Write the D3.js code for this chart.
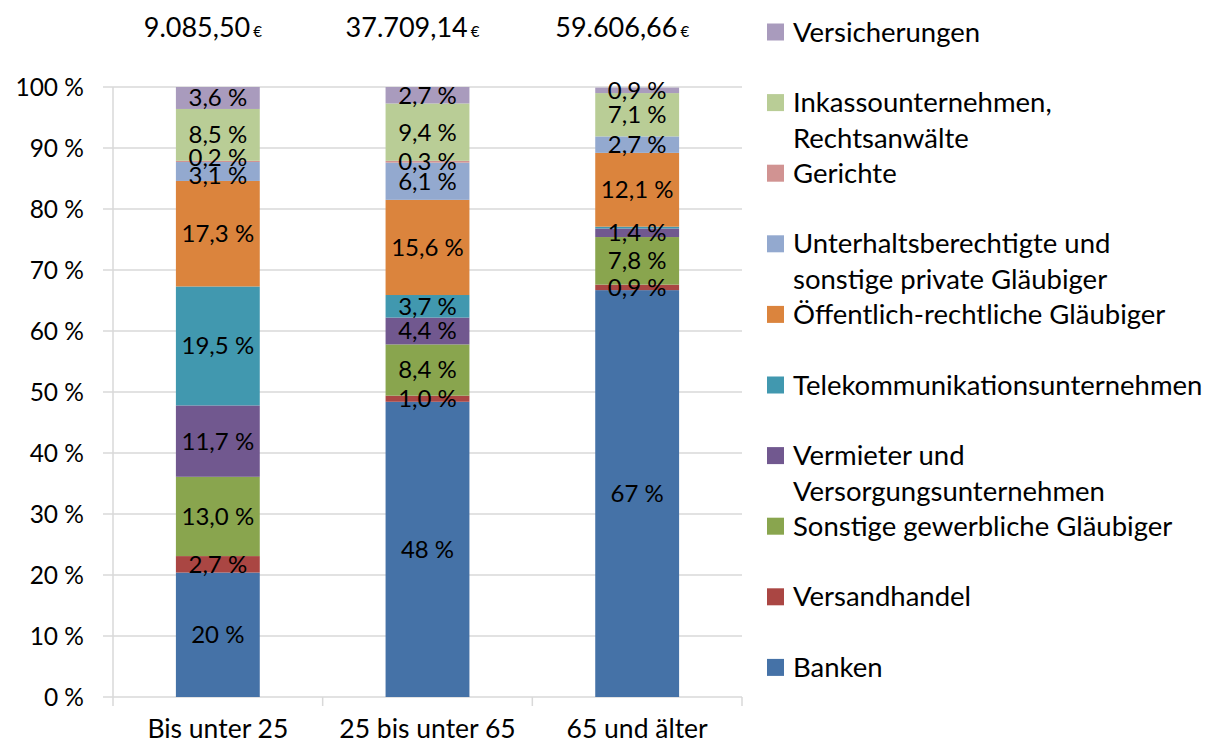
<!DOCTYPE html>
<html>
<head>
<meta charset="utf-8">
<script src="https://cdn.jsdelivr.net/npm/d3@7"></script>
<style>
body { margin:0; background:#fff; }
text { font-family: Lato, "Open Sans", sans-serif; fill:#000; }
.grid line { stroke:#d9d9d9; stroke-width:1.5; }
</style>
</head>
<body>
<div id="chart"></div>
<script>
'use strict';

var width = 1214;
var height = 746;

// categories (age groups) and total debt per group
var categories = ["Bis unter 25", "25 bis unter 65", "65 und älter"];
var totals = ["9.085,50", "37.709,14", "59.606,66"];

// series, bottom of the stack first
var seriesNames = ["Banken", "Versandhandel", "Sonstige gewerbliche Gläubiger",
	"Vermieter und\nVersorgungsunternehmen", "Telekommunikationsunternehmen",
	"Öffentlich-rechtliche Gläubiger", "Unterhaltsberechtigte und\nsonstige private Gläubiger",
	"Gerichte", "Inkassounternehmen,\nRechtsanwälte", "Versicherungen"];
var colors = ["#4572a7", "#aa4643", "#89a54e", "#71588f", "#4198af",
	"#db843d", "#93a9cf", "#d19392", "#b9cd96", "#a99bbd"];

// values in percent per category
var banken = [20.4, 48.4, 66.7];
var versandhandel = [2.7, 1.0, 0.9];
var sonstigeGewerbliche = [13.0, 8.4, 7.8];
var vermieter = [11.7, 4.4, 1.4];
var telekom = [19.5, 3.7, 0.3];
var oeffentlich = [17.3, 15.6, 12.1];
var unterhalt = [3.1, 6.1, 2.7];
var gerichte = [0.2, 0.3, 0.0];
var inkasso = [8.5, 9.4, 7.1];
var versicherungen = [3.6, 2.7, 0.9];

var values = [banken, versandhandel, sonstigeGewerbliche, vermieter, telekom,
	oeffentlich, unterhalt, gerichte, inkasso, versicherungen];

// labels that are not shown in the original (series index, category index)
var hiddenLabels = [[4, 2], [7, 2]];

var yTicks = [0, 10, 20, 30, 40, 50, 60, 70, 80, 90, 100];

var de = d3.formatLocale({decimal: ",", thousands: ".", grouping: [3], currency: ["", " €"]});
var fmt1 = de.format(".1f");
var fmt0 = de.format(".0f");

var svg = d3.select("#chart").append("svg")
	.attr("width", width)
	.attr("height", height);

var x = d3.scaleBand()
	.domain(categories)
	.range([113, 742])
	.paddingInner(0.6)
	.paddingOuter(0.3);

var y = d3.scaleLinear()
	.domain([0, 100])
	.range([697, 87]);

// grid lines
svg.append("g")
	.attr("class", "grid")
	.selectAll("line")
	.data(yTicks)
	.enter()
	.append("line")
	.attr("x1", 103)
	.attr("x2", 742)
	.attr("y1", function(d){ return y(d); })
	.attr("y2", function(d){ return y(d); });

// vertical axis line
svg.append("line")
	.attr("x1", 113).attr("x2", 113)
	.attr("y1", y(100)).attr("y2", y(0))
	.attr("stroke", "#d9d9d9").attr("stroke-width", 1.5);

// tick marks between the categories
var bounds = categories.map(function(c){ return x(c) - x.step() * 0.3; });
bounds.push(742);
svg.selectAll(".xtick")
	.data(bounds)
	.enter()
	.append("line")
	.attr("class", "xtick")
	.attr("x1", function(d){ return d; })
	.attr("x2", function(d){ return d; })
	.attr("y1", y(0))
	.attr("y2", y(0) + 9)
	.attr("stroke", "#d9d9d9").attr("stroke-width", 1.5);

// y labels
svg.selectAll(".ylab")
	.data(yTicks)
	.enter()
	.append("text")
	.attr("class", "ylab")
	.attr("x", 84)
	.attr("y", function(d){ return y(d); })
	.attr("dy", "0.35em")
	.attr("text-anchor", "end")
	.style("font-size", "24.5px")
	.text(function(d){ return d + " %"; });

// x labels
svg.selectAll(".xlab")
	.data(categories)
	.enter()
	.append("text")
	.attr("class", "xlab")
	.attr("x", function(d){ return x(d) + x.bandwidth() / 2; })
	.attr("y", 738)
	.attr("text-anchor", "middle")
	.style("font-size", "26.5px")
	.text(function(d){ return d; });

// stack the values
var rows = categories.map(function(c, j){
	var r = {cat: c};
	seriesNames.forEach(function(s, i){ r[i] = values[i][j]; });
	return r;
});
var stack = d3.stack().keys(d3.range(seriesNames.length))(rows);

var layers = svg.selectAll(".layer")
	.data(stack)
	.enter()
	.append("g")
	.attr("class", "layer")
	.attr("fill", function(d){ return colors[d.key]; });

layers.selectAll("rect")
	.data(function(d){ return d; })
	.enter()
	.append("rect")
	.attr("x", function(d){ return x(d.data.cat); })
	.attr("width", x.bandwidth())
	.attr("y", function(d){ return y(d[1]); })
	.attr("height", function(d){ return y(d[0]) - y(d[1]); });

// data labels
function isHidden(i, j){
	return hiddenLabels.some(function(h){ return h[0] == i && h[1] == j; });
}

var minGap = 18; // labels closer than this get pushed apart
categories.forEach(function(c, j){
	var labs = [];
	stack.forEach(function(layer){
		var i = layer.key;
		if(isHidden(i, j)) return;
		var d = layer[j];
		var v = values[i][j];
		labs.push({ly: y((d[0] + d[1]) / 2), txt: (i == 0 ? fmt0(v) : fmt1(v)) + " %"});
	});
	// labs go bottom to top, push close pairs apart (only pairs, no cascade)
	for(var k = 1; k < labs.length; k++){
		var gap = labs[k-1].ly - labs[k].ly;
		if(gap < minGap){
			var half = (minGap - gap) / 2;
			labs[k-1].ly += half;
			labs[k].ly -= half;
			k++;
		}
	}
	labs.forEach(function(l){
		svg.append("text")
			.attr("x", x(c) + x.bandwidth() / 2)
			.attr("y", l.ly)
			.attr("dy", "0.35em")
			.attr("text-anchor", "middle")
			.style("font-size", "24px")
			.text(l.txt);
	});
});

// totals above the bars
var tot = svg.selectAll(".total")
	.data(totals)
	.enter()
	.append("text")
	.attr("class", "total")
	.attr("x", function(d, j){ return x(categories[j]) + x.bandwidth() / 2 - 15; })
	.attr("y", 28)
	.attr("dy", "0.35em")
	.attr("text-anchor", "middle")
	.style("font-size", "27px");
tot.append("tspan").text(function(d){ return d; });
tot.append("tspan").attr("dx", 3).style("font-size", "15px").text("€");

// legend, top entry is the last series
var legend = svg.append("g");
var order = d3.range(seriesNames.length).reverse();
order.forEach(function(i, k){
	var ly = 32 + k * 70.6;
	legend.append("rect")
		.attr("x", 767)
		.attr("y", ly - 8.5)
		.attr("width", 17)
		.attr("height", 17)
		.attr("fill", colors[i]);
	var t = legend.append("text")
		.attr("x", 793)
		.attr("y", ly)
		.style("font-size", "27.5px");
	seriesNames[i].split("\n").forEach(function(line, n){
		t.append("tspan")
			.attr("x", 793)
			.attr("dy", n == 0 ? "0.35em" : "36px")
			.text(line);
	});
});
</script>
</body>
</html>
